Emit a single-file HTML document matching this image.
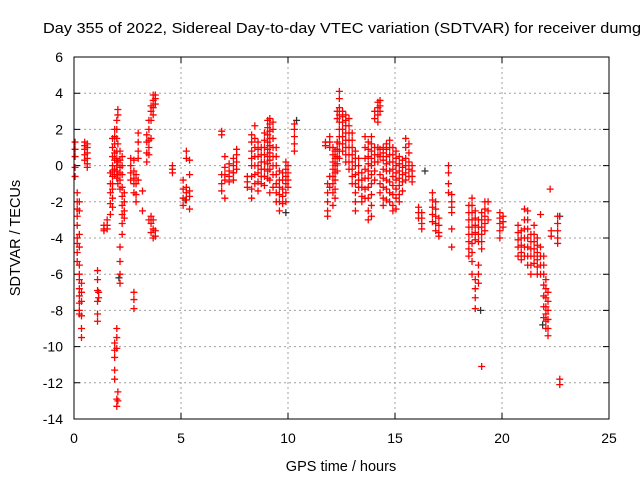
<!DOCTYPE html>
<html><head><meta charset="utf-8"><style>
html,body{margin:0;padding:0;background:#fff;}
svg{display:block;font-family:"Liberation Sans",sans-serif;}
</style></head><body>
<svg id="chart" width="640" height="480" viewBox="0 0 640 480">
<rect x="0" y="0" width="640" height="480" fill="#fff"/>
<text x="43" y="33" font-size="14.5" fill="#000" textLength="598" lengthAdjust="spacingAndGlyphs">Day 355 of 2022, Sidereal Day-to-day VTEC variation (SDTVAR) for receiver dumg</text>
<g id="grid"></g>
<g id="ticks"></g>
<g id="marksBlack"></g>
<g id="marksRed"></g>
<rect x="74" y="57" width="535" height="362" fill="none" stroke="#000" stroke-width="1"/>
<text x="341" y="471" font-size="14.5" text-anchor="middle">GPS time / hours</text>
<text transform="translate(20,238) rotate(-90)" font-size="14.5" text-anchor="middle">SDTVAR / TECUs</text>
</svg>
<script>
const xTicks=[0,5,10,15,20,25];
const yTicks=[6,4,2,0,-2,-4,-6,-8,-10,-12,-14];
const streakTimes=[0.05,0.15,0.25,0.35,0.5,0.62,1.1,1.15,1.4,1.55,1.7,1.8,1.9,2.0,2.05,2.15,2.25,2.35,2.65,2.8,2.9,3.0,3.2,3.4,3.5,3.6,3.7,3.8,4.6,5.1,5.25,5.4,6.9,7.05,7.25,7.45,7.6,8.1,8.3,8.45,8.6,8.75,8.9,9.05,9.15,9.3,9.45,9.6,9.75,9.9,10.0,10.3,11.75,11.85,11.95,12.1,12.2,12.3,12.4,12.55,12.7,12.85,13.0,13.15,13.3,13.45,13.6,13.75,13.9,14.05,14.2,14.3,14.45,14.6,14.75,14.9,15.05,15.2,15.35,15.5,15.65,15.8,16.1,16.25,16.75,16.9,17.05,17.5,17.65,18.45,18.6,18.75,18.9,19.05,19.2,19.35,19.9,20.05,20.75,20.9,21.05,21.2,21.35,21.5,21.65,21.8,21.95,22.05,22.15,22.25,22.3,22.6,22.7];
const streakValues=[
[1.3,0.9,0.5,-0.1,-0.6],
[-1.5,-2.0,-2.4,-2.8,-3.3,-4.0,-4.3,-4.8,-5.3],
[-2,-2.5,-3.8,-4.5,-5.5,-6,-6.3,-6.8,-7.2,-7.6,-8,-8.2],
[-6.5,-7,-7.5,-8.3,-9.0,-9.5],
[1.3,1.1,0.9,0.6,0.3],
[1.2,1.0,0.7,0.4,0.1,-0.1],
[-5.8,-6.3,-6.9,-7.5,-8.2,-8.6],
[-7,-7.3],
[-3.3,-3.5,-3.6],
[-3.0,-3.3,-3.5],
[-0.4,-1.0,-1.5,-2.1,-2.7],
[1.5,1.0,0.5,0.0,-0.3,-0.6,-1.0,-1.3,-1.8,-2.3],
[2.0,1.6,1.2,0.7,0.3,-0.2,-0.5,-9.8,-10.2,-10.6,-11.3,-11.8],
[2.5,2.0,1.5,0.8,0.4,0.0,-0.3,-0.7,-9.0,-9.5,-10.1,-12.9,-13.3],
[3.1,2.8,1.2,0.2,-0.5,-1.0,-12.5,-13.0],
[0.8,0.3,-0.1,-0.4,-0.8,-1.3,-4.5,-5.3,-6.0,-6.5],
[0.5,0.0,-0.5,-1.2,-1.7,-2.2,-2.7,-3.2,-3.8],
[-1.5,-2.0,-2.5,-2.9],
[0.4,0.0,-0.4,-0.8],
[0.3,-0.3,-0.7,-1.0,-1.5,-7.0,-7.4,-7.9],
[-0.5,-1.0,-1.6,-2.0],
[1.8,1.3,0.8,0.4,-0.8],
[-2.5,-1.4],
[1.7,1.3,0.7,0.2],
[2.5,2.0,1.4,1.0,0.6,-3.0],
[3.3,3.0,2.5,1.5,-2.8,-3.2,-3.7],
[3.9,3.6,3.2,2.8,-3.0,-3.5,-4.0],
[3.9,3.7,3.4,-3.6,-3.9],
[0.0,-0.2,-0.4],
[-0.8,-1.3,-1.8,-2.2],
[0.8,0.4,-1.2,-1.5,-1.9],
[0.3,-0.5,-1.4,-1.7,-2.4],
[1.9,1.7,-0.5,-1.0,-1.4],
[0.5,-0.1,-0.5,-0.8,-1.8],
[0.1,-0.3,-0.6,-0.9],
[0.4,0.0,-0.4,-0.8,-0.4],
[0.9,0.6,0.2,-0.2],
[-0.6,-0.9,-1.2],
[1.7,1.3,0.8,0.4,0.0,-0.6,-1.3,-1.8],
[2.2,1.5,1.0,0.5,0.0,-0.5,-1.0],
[1.3,0.9,0.5,0.0,-0.4,-0.9,-1.4],
[1.0,0.6,0.2,-0.2,-0.6,-1.0],
[1.8,1.4,1.0,0.6,0.2,-0.2,-0.6,-1.1],
[2.5,2.1,1.7,1.3,0.9,0.5,0.1,-0.3,-0.7],
[2.6,2.3,1.9,1.5,1.1,0.7,0.3,-0.2,-0.8,-1.5],
[2.4,2.0,1.5,1.0,0.5,0.0,-0.5,-1.2],
[1.0,0.5,0.0,-0.5,-1.0,-1.5,-2.0],
[-0.3,-0.8,-1.2,-1.6,-2.0,-2.5],
[-0.4,-0.8,-1.3,-1.7,-2.1],
[0.2,-0.2,-0.6,-1.0,-1.5,-2.0],
[0.0,-0.4,-0.8,-1.2],
[2.3,2.0,1.6,1.2,0.8],
[1.3,1.1],
[-1.0,-1.5,-2.0,-2.5,-2.8],
[1.6,1.3,1.0,-0.6,-1.2],
[1.0,0.6,0.2,-0.2,-0.6,-1.0,-1.5,-2.2],
[0.8,0.4,0.0,-0.4,-0.8,-1.3,-1.8],
[3.0,2.6,1.3,0.9,0.5,0.1,-0.3],
[4.1,3.7,3.2,2.8,2.4,2.0,1.6,1.2,0.8,0.4],
[3.0,2.7,2.4,2.0,1.6,1.2,0.8],
[2.8,2.5,2.2,1.8,1.4,1.0,0.6,0.2],
[2.6,2.2,1.8,1.4,1.0,0.6,0.2,-0.2],
[1.8,1.4,1.0,0.6,0.2,-0.2,-0.6,-1.0],
[0.8,0.4,0.0,-0.5,-1.0,-1.5,-2.0,-2.5],
[0.4,0.0,-0.4,-0.8,-1.2],
[-0.4,-0.8,-1.2,-1.7,-2.0],
[1.6,1.0,0.4,-0.2,-0.7,-1.3,-1.8],
[1.3,0.9,0.5,0.1,-0.3,-0.7,-1.2,-1.8,-2.5,-3.0],
[1.6,1.2,0.8,0.4,0.0,-0.5,-1.0,-1.6,-2.2,-2.8],
[3.0,2.6,1.0,0.6,0.2,-0.3,-0.8],
[3.5,3.2,2.8,2.4,1.0,0.6,0.2],
[3.6,3.3,3.0,0.9,0.5,-0.5,-1.0,-1.5],
[1.0,0.7,0.3,-0.2,-0.7,-1.2,-1.8,-2.2],
[1.2,0.9,0.5,0.1,-0.3,-0.8,-1.3,-1.9],
[1.4,1.0,0.6,0.2,-0.3,-0.9,-1.5,-2.0],
[1.0,0.6,0.2,-0.2,-0.6,-1.1,-1.6,-2.2,-2.5],
[0.8,0.4,0.0,-0.4,-0.8,-1.3,-1.8,-2.4],
[0.5,0.1,-0.3,-0.7,-1.1,-1.6,-2.0],
[0.3,-0.1,-0.5,-0.9,-1.4],
[1.5,1.0,0.4,0.0,-0.4,-0.8],
[1.2,0.7,0.2,-0.2,-0.6],
[0.0,-0.3,-0.6,-0.9],
[-2.3,-2.6,-2.9],
[-2.6,-2.9,-3.2,-3.5],
[-1.5,-1.9,-2.3,-2.7,-3.1],
[-2.0,-2.4,-2.8,-3.2,-3.6],
[-2.9,-3.3,-3.7,-3.9],
[0.0,-0.4,-1.0,-1.5],
[-1.6,-2.0,-2.3,-2.6,-3.5,-4.5],
[-2.2,-2.6,-3.0,-3.4,-3.8,-4.2,-4.6,-5.0],
[-1.8,-2.2,-2.6,-3.0,-3.4,-3.8,-4.3,-4.8,-5.3,-6.0],
[-2.5,-2.9,-3.3,-3.7,-4.1,-6.3,-6.8,-7.3,-7.9],
[-3.0,-3.4,-3.8,-4.2,-5.5,-6.0,-6.5],
[-2.6,-3.0,-3.4,-3.8,-4.2,-4.6,-11.1],
[-2.0,-2.4,-2.8,-3.2,-3.6],
[-2.0,-2.5,-3.0],
[-2.6,-2.9,-3.2,-3.6,-4.0],
[-2.8,-3.1,-3.4],
[-3.3,-3.7,-4.1,-4.5,-5.0],
[-3.6,-4.0,-4.4,-4.8,-5.2],
[-2.4,-3.0,-3.5,-4.0,-4.5,-5.0],
[-2.5,-3.0,-3.5,-4.0,-4.5,-5.0,-5.5],
[-3.8,-4.2,-4.6,-5.0,-5.5,-6.0],
[-3.3,-3.8,-4.2,-4.6,-5.0,-5.4],
[-4.0,-4.4,-4.8,-5.2,-5.6,-6.0],
[-4.5,-5.0,-5.5,-6.0,-2.7],
[-5.0,-5.5,-6.0,-6.6,-7.2,-7.8,-8.4],
[-6.3,-6.8,-7.3,-7.8,-8.2,-8.6,-9.0],
[-7.0,-7.5,-8.0,-8.5,-9.0,-9.4],
[-1.3],
[-3.6,-3.9],
[-2.8,-3.2,-3.6,-4.0,-4.3],
[-11.8,-12.1]
];
const blackTimes=[2.1,9.9,10.4,16.4,22.7,5.2,19.0,21.9];
const blackValues=[-6.2,-2.6,2.5,-0.3,-2.8,-1.9,-8.0,-8.8];

const X0=74,X1=609,Y0=57,Y1=419,XMIN=0,XMAX=25,YMIN=-14,YMAX=6;
function xs(t){return X0+(t-XMIN)/(XMAX-XMIN)*(X1-X0);}
function ys(v){return Y1-(v-YMIN)/(YMAX-YMIN)*(Y1-Y0);}
const NS='http://www.w3.org/2000/svg';
function mk(tag,attrs,parent){const e=document.createElementNS(NS,tag);for(const k in attrs)e.setAttribute(k,attrs[k]);parent.appendChild(e);return e;}
const grid=document.getElementById('grid'),ticks=document.getElementById('ticks');
xTicks.forEach(t=>{
  const x=xs(t);
  if(t>XMIN&&t<XMAX){const g=mk('line',{x1:x,x2:x,y1:Y0,y2:Y1,stroke:'#a0a0a0','stroke-dasharray':'2,3'},grid);
  
  }
  const tk=mk('path',{d:`M${x},${Y1}v-6M${x},${Y0}v6`,stroke:'#000'},ticks);
  
  
  const lb=mk('text',{x:x,y:443,'font-size':'14','text-anchor':'middle'},ticks);lb.textContent=t;
  
  
});
yTicks.forEach(v=>{
  const y=ys(v);
  if(v>YMIN&&v<YMAX){const g=mk('line',{x1:X0,x2:X1,y1:y,y2:y,stroke:'#a0a0a0','stroke-dasharray':'2,3'},grid);
  
  }
  const tk=mk('path',{d:`M${X0},${y}h6M${X1},${y}h-6`,stroke:'#000'},ticks);
  
  
  const lb=mk('text',{x:63,y:y+5,'font-size':'14','text-anchor':'end'},ticks);lb.textContent=v;
  
  
});
function plus(t,v,color,parent){
  const x=xs(t),y=ys(v);
  const p=mk('path',{d:`M${x-3.5},${y}h7M${x},${y-3.5}v7`,stroke:color,'stroke-width':'1.3'},parent);
  return p;
}
const gb=document.getElementById('marksBlack');
blackTimes.forEach((t,i)=>{const p=plus(t,blackValues[i],'#333',gb);
  
  });
const gr=document.getElementById('marksRed');
streakTimes.forEach((t,i)=>{streakValues[i].forEach(v=>{const p=plus(t,v,'#ff0000',gr);
  
  });});
</script>
</body></html>
